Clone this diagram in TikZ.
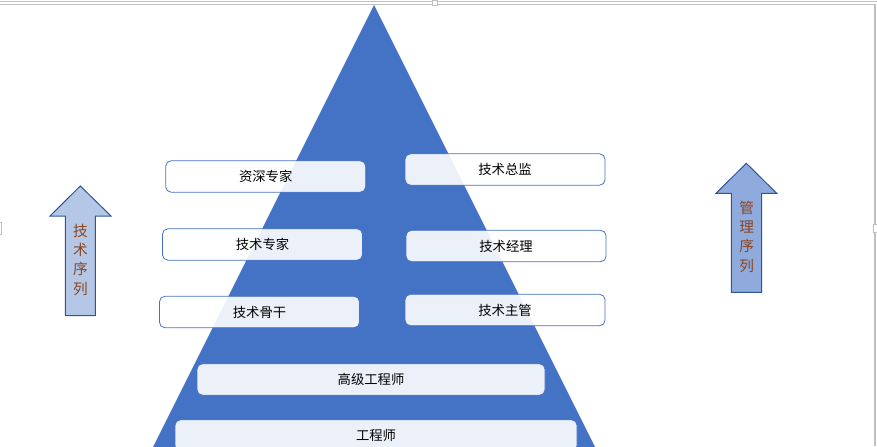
\documentclass[tikz,border=0pt]{standalone}
\usepackage{fontspec}
\newfontfamily\cjk{Noto Sans CJK SC}
\definecolor{pyrblue}{HTML}{4472C4}
\definecolor{techfill}{HTML}{B4C7E7}
\definecolor{mgmtfill}{HTML}{8FAADC}
\definecolor{arrowline}{HTML}{2F5597}
\definecolor{seqbrown}{RGB}{140,70,30}
\definecolor{framegray}{HTML}{C0C0C0}
\begin{document}
\begin{tikzpicture}[x=0.75pt, y=-0.75pt,
    rankbox/.style={draw=pyrblue, line width=0.6pt, fill=white, fill opacity=0.9, text opacity=1,
        rounded corners=4pt, minimum width=150pt, minimum height=23.5pt, inner sep=0pt,
        font=\cjk\fontsize{10}{12}\selectfont},
    seqarrow/.style={draw=arrowline, line width=0.75pt},
    seqtext/.style={align=center, text=seqbrown, inner sep=0pt,
        font=\cjk\fontsize{11}{14.5}\selectfont}]
    \useasboundingbox (0,0) rectangle (877,446);

    % --- canvas frame ---
    \draw[framegray, line width=0.8pt] (0,1.5) -- (877,1.5);
    \draw[framegray, line width=0.8pt] (0,4.5) -- (875,4.5) -- (875,446);
    \draw[framegray, fill=white, line width=0.6pt] (432,0) rectangle (437,5);
    \draw[framegray, fill=white, line width=0.6pt] (873,224) rectangle (877,232);
    \draw[framegray, fill=white, line width=0.6pt] (-2,222) rectangle (1.5,234);

    % --- PYRAMID ---
    \fill[pyrblue] (374,5) -- (150.5,452) -- (597.5,452) -- cycle;

    % Left column
    \node[rankbox] (zszj) at (265.7,176.5) {资深专家};
    \node[rankbox] (jszj) at (262.5,244.5) {技术专家};
    \node[rankbox] (jsgg) at (259.5,312) {技术骨干};

    % Right column
    \node[rankbox] (jszjian) at (505,169.5) {技术总监};
    \node[rankbox] (jsjl) at (506,246) {技术经理};
    \node[rankbox] (jszg) at (505,310) {技术主管};

    % Bottom levels
    \node[rankbox, minimum width=261pt] (gjgcs) at (371,379.5) {高级工程师};
    \node[rankbox, minimum width=301.5pt] (gcs) at (376,435.5) {工程师};

    % --- LEFT ARROW: TECH ---
    \draw[seqarrow, fill=techfill]
        (80.3,186) -- (111,216) -- (95.3,216) -- (95.3,315.7)
        -- (65.3,315.7) -- (65.3,216) -- (50,216) -- cycle;
    \node[seqtext] (jsxl) at (80.5,259.5) {技\\术\\序\\列};

    % --- RIGHT ARROW: MANAGEMENT ---
    \draw[seqarrow, fill=mgmtfill]
        (746.3,163.3) -- (776.7,193.3) -- (761.7,193.3) -- (761.7,292.3)
        -- (731.3,292.3) -- (731.3,193.3) -- (716,193.3) -- cycle;
    \node[seqtext] (glxl) at (746.7,236.7) {管\\理\\序\\列};
\end{tikzpicture}
\end{document}
